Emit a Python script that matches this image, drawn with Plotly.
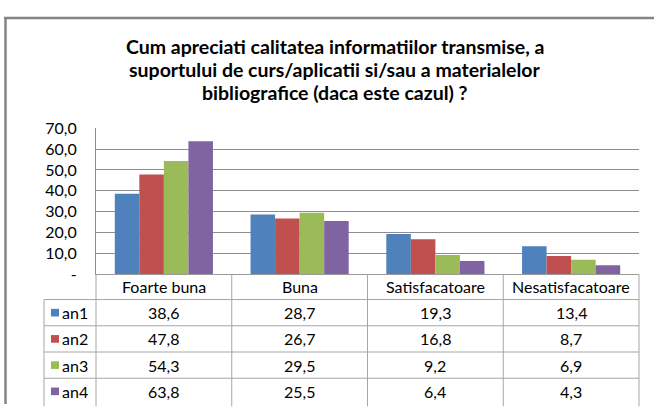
import plotly.graph_objects as go

categories = ["Foarte buna", "Buna", "Satisfacatoare", "Nesatisfacatoare"]
series_names = ["an1", "an2", "an3", "an4"]
an1 = [38.6, 28.7, 19.3, 13.4]
an2 = [47.8, 26.7, 16.8, 8.7]
an3 = [54.3, 29.5, 9.2, 6.9]
an4 = [63.8, 25.5, 6.4, 4.3]
y_ticks = [0, 10, 20, 30, 40, 50, 60, 70]
y_tick_labels = ["-", "10,0", "20,0", "30,0", "40,0", "50,0", "60,0", "70,0"]
title_lines = [
    "Cum apreciati calitatea informatiilor transmise, a",
    "suportului de curs/aplicatii si/sau a materialelor",
    "bibliografice (daca este cazul) ?",
]

colors = ["#4F81BD", "#C0504D", "#9BBB59", "#8064A2"]
W, H = 654, 413
FONT = "Lato"
TXT = 16


def px(x):
    return x / W


def py(y):
    return 1 - y / H


# pixel layout of plot area / data table
plot_l, plot_r, plot_t, plot_b = 96, 639, 124, 277
table_l = 44
row_h = 27.5
header_b = 303.5
col_w = (plot_r - plot_l) / len(categories)

fig = go.Figure()
for name, vals, c in zip(series_names, [an1, an2, an3, an4], colors):
    fig.add_trace(go.Bar(x=categories, y=vals, name=name,
                         marker=dict(color=c, line=dict(width=0))))

shapes = []
annotations = []

# outer frame (cropped chart border)
shapes.append(dict(type="line", xref="paper", yref="paper",
                   x0=px(4), x1=px(654), y0=py(8.5), y1=py(8.5),
                   line=dict(color="#848484", width=2.5)))
shapes.append(dict(type="line", xref="paper", yref="paper",
                   x0=px(5.5), x1=px(5.5), y0=py(8), y1=py(413),
                   line=dict(color="#848484", width=2.5)))

# title
for i, line in enumerate(title_lines):
    annotations.append(dict(text="<b>" + line + "</b>", xref="paper",
                            yref="paper", x=px(335), y=py(38.5 + i * 24),
                            xanchor="center", yanchor="middle",
                            showarrow=False,
                            font=dict(family=FONT, size=19.5, color="#000")))

# data table
tcol = "#A6A6A6"
n_rows = len(series_names)
bottom = header_b + n_rows * row_h + 2
for i in range(len(categories) + 1):
    x = plot_l + i * col_w
    shapes.append(dict(type="line", xref="paper", yref="paper",
                       x0=px(x), x1=px(x), y0=py(plot_b), y1=py(bottom),
                       line=dict(color=tcol, width=1)))
shapes.append(dict(type="line", xref="paper", yref="paper",
                   x0=px(table_l), x1=px(table_l), y0=py(header_b),
                   y1=py(bottom), line=dict(color=tcol, width=1)))
for r in range(n_rows):
    y = header_b + r * row_h
    shapes.append(dict(type="line", xref="paper", yref="paper",
                       x0=px(table_l), x1=px(plot_r), y0=py(y), y1=py(y),
                       line=dict(color=tcol, width=1)))

for j, cat in enumerate(categories):
    annotations.append(dict(text=cat, xref="paper", yref="paper",
                            x=px(plot_l + (j + 0.5) * col_w),
                            y=py((plot_b + header_b) / 2),
                            xanchor="center", yanchor="middle",
                            showarrow=False,
                            font=dict(family=FONT, size=TXT, color="#000")))

for r, (name, vals, c) in enumerate(zip(series_names, [an1, an2, an3, an4],
                                        colors)):
    yc = header_b + (r + 0.5) * row_h
    shapes.append(dict(type="rect", xref="paper", yref="paper",
                       x0=px(51), x1=px(59), y0=py(yc - 4), y1=py(yc + 4),
                       fillcolor=c, line=dict(width=0)))
    annotations.append(dict(text=name, xref="paper", yref="paper",
                            x=px(60), y=py(yc), xanchor="left",
                            yanchor="middle", showarrow=False,
                            font=dict(family=FONT, size=TXT, color="#000")))
    for j, v in enumerate(vals):
        annotations.append(dict(text=("%.1f" % v).replace(".", ","),
                                xref="paper", yref="paper",
                                x=px(plot_l + (j + 0.5) * col_w), y=py(yc),
                                xanchor="center", yanchor="middle",
                                showarrow=False,
                                font=dict(family=FONT, size=TXT,
                                          color="#000")))

fig.update_layout(
    width=W, height=H,
    margin=dict(l=0, r=0, t=0, b=0),
    paper_bgcolor="white", plot_bgcolor="white",
    barmode="group", bargap=0.277, bargroupgap=0,
    showlegend=False,
    shapes=shapes, annotations=annotations,
    xaxis=dict(domain=[px(plot_l), px(plot_r)], showticklabels=False,
               showgrid=False, showline=True, linecolor="#9A9A9A",
               linewidth=1, ticks=""),
    yaxis=dict(domain=[py(plot_b), py(plot_t)], range=[0, 70],
               tickvals=y_ticks, ticktext=y_tick_labels,
               showgrid=True, gridcolor="#8E8E8E", gridwidth=1,
               showline=True, linecolor="#8E8E8E", linewidth=1,
               zeroline=False, ticks="", ticklabelstandoff=15,
               tickfont=dict(family=FONT, size=TXT, color="#000")),
)

# page margin off so the 654x413 figure fills the window exactly,
# and no "ti" ligatures in the text
fig.write_html("out.html", config={"displayModeBar": False},
               post_script="document.body.style.margin='0px';"
                           "document.body.style.overflow='hidden';"
                           "document.head.insertAdjacentHTML('beforeend',"
                           "'<style>text{font-variant-ligatures:none}</style>');")
